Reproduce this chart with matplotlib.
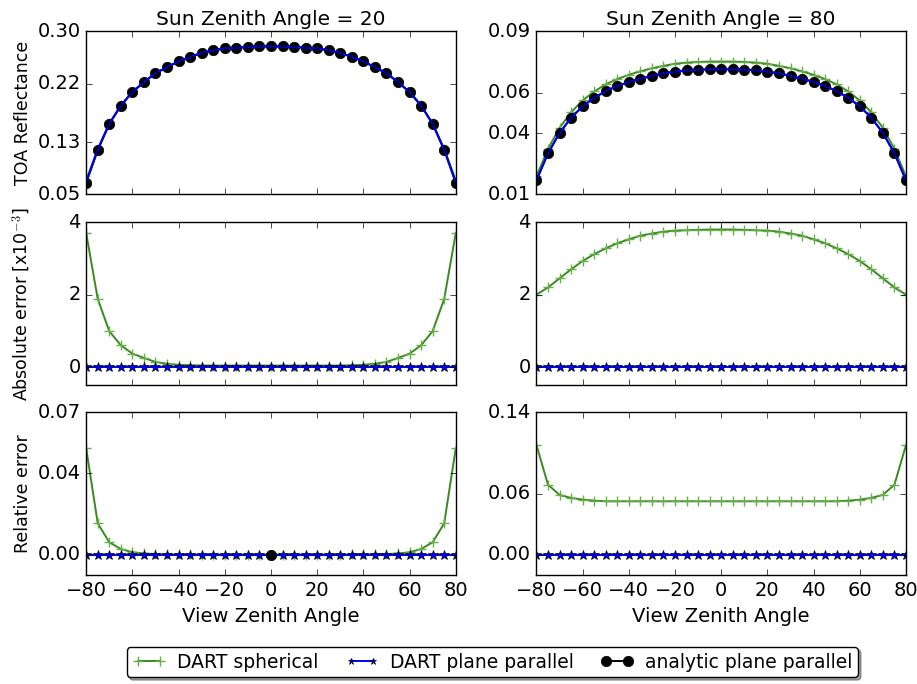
import numpy as np
import matplotlib
matplotlib.use("Agg")
import matplotlib.pyplot as plt

plt.style.use("classic")
plt.rcParams["figure.facecolor"] = "white"
plt.rcParams["savefig.facecolor"] = "white"
plt.rcParams["font.size"] = 14

vza = [-80, -75, -70, -65, -60, -55, -50, -45, -40, -35, -30, -25, -20, -15, -10, -5, 0,
       5, 10, 15, 20, 25, 30, 35, 40, 45, 50, 55, 60, 65, 70, 75, 80]

# sun zenith 20
refl_analytic_20 = [0.068, 0.118, 0.158, 0.186, 0.207, 0.222, 0.236, 0.245, 0.254, 0.261, 0.267,
                    0.271, 0.274, 0.275, 0.276, 0.277, 0.277, 0.277, 0.276, 0.275, 0.274, 0.271,
                    0.267, 0.261, 0.254, 0.245, 0.236, 0.222, 0.207, 0.186, 0.158, 0.118, 0.068]
refl_pp_20 = refl_analytic_20
refl_sph_20 = [0.0717, 0.1199, 0.1590, 0.1866, 0.2074, 0.2223, 0.2361, 0.2451, 0.2541, 0.2611,
               0.2670, 0.2710, 0.2740, 0.2750, 0.2760, 0.2770, 0.2770, 0.2770, 0.2760, 0.2750,
               0.2740, 0.2710, 0.2670, 0.2611, 0.2541, 0.2451, 0.2361, 0.2223, 0.2074, 0.1866,
               0.1590, 0.1199, 0.0717]
abs_sph_20 = [3.70, 1.88, 0.99, 0.60, 0.37, 0.25, 0.14, 0.09, 0.06, 0.05, 0.04, 0.04, 0.04, 0.04,
              0.04, 0.04, 0.04, 0.04, 0.04, 0.04, 0.04, 0.04, 0.04, 0.05, 0.06, 0.09, 0.14, 0.25,
              0.37, 0.60, 0.99, 1.88, 3.70]
rel_sph_20 = [0.0523, 0.0155, 0.0062, 0.0029, 0.0013, 0.0007, 0.0004, 0.0003, 0.0002, 0.0002,
              0.0001, 0.0001, 0.0001, 0.0001, 0.0001, 0.0001, 0.0001, 0.0001, 0.0001, 0.0001,
              0.0001, 0.0001, 0.0001, 0.0002, 0.0002, 0.0003, 0.0004, 0.0007, 0.0013, 0.0029,
              0.0062, 0.0155, 0.0523]

# sun zenith 80
refl_analytic_80 = [0.0168, 0.0301, 0.0401, 0.0476, 0.0532, 0.0574, 0.0607, 0.0632, 0.0652,
                    0.0668, 0.0682, 0.0694, 0.0703, 0.0709, 0.0712, 0.0714, 0.0714, 0.0714,
                    0.0712, 0.0709, 0.0703, 0.0694, 0.0682, 0.0668, 0.0652, 0.0632, 0.0607,
                    0.0574, 0.0532, 0.0476, 0.0401, 0.0301, 0.0168]
refl_pp_80 = refl_analytic_80
refl_sph_80 = [0.0188, 0.0323, 0.0426, 0.0503, 0.0561, 0.0605, 0.0640, 0.0666, 0.0687, 0.0704,
               0.0719, 0.0731, 0.0741, 0.0747, 0.0750, 0.0752, 0.0752, 0.0752, 0.0750, 0.0747,
               0.0741, 0.0731, 0.0719, 0.0704, 0.0687, 0.0666, 0.0640, 0.0605, 0.0561, 0.0503,
               0.0426, 0.0323, 0.0188]
abs_sph_80 = [2.00, 2.20, 2.45, 2.70, 2.93, 3.12, 3.28, 3.42, 3.53, 3.63, 3.69, 3.74, 3.77, 3.78,
              3.79, 3.80, 3.80, 3.80, 3.79, 3.78, 3.77, 3.74, 3.69, 3.63, 3.53, 3.42, 3.28, 3.12,
              2.93, 2.70, 2.45, 2.20, 2.00]
rel_sph_80 = [0.108, 0.069, 0.059, 0.056, 0.0543, 0.0533, 0.0527, 0.0527, 0.0527, 0.0527, 0.0527,
              0.0527, 0.0527, 0.0527, 0.0527, 0.0527, 0.0527, 0.0527, 0.0527, 0.0527, 0.0527,
              0.0527, 0.0527, 0.0527, 0.0527, 0.0527, 0.0527, 0.0533, 0.0543, 0.056, 0.059,
              0.069, 0.108]

zeros = [0.0] * len(vza)

fig = plt.figure(figsize=(9.17, 6.84), dpi=100)

lefts = [0.094, 0.585]
width = 0.403
bottoms = [0.716, 0.437, 0.159]
height = 0.238

cols = [
    dict(title="Sun Zenith Angle = 20", refl=(refl_sph_20, refl_pp_20, refl_analytic_20),
         abs=abs_sph_20, rel=rel_sph_20,
         lim=[(0.05, 0.30), (-0.5, 4), (-0.01, 0.07)],
         ticks=[[0.05, 0.13, 0.22, 0.30], [0, 2, 4], [0.0, 0.04, 0.07]]),
    dict(title="Sun Zenith Angle = 80", refl=(refl_sph_80, refl_pp_80, refl_analytic_80),
         abs=abs_sph_80, rel=rel_sph_80,
         lim=[(0.01, 0.09), (-0.5, 4), (-0.02, 0.14)],
         ticks=[[0.01, 0.04, 0.06, 0.09], [0, 2, 4], [0.0, 0.06, 0.14]]),
]

sph_kw = dict(color="#3a8a22", marker="+", markersize=7, markeredgewidth=1,
              markeredgecolor="#66b04a", lw=1.4)
pp_kw = dict(color="b", marker="*", markersize=7, lw=1.4)
an_kw = dict(color="k", marker="o", markersize=7.5, lw=1.4)

handles = None
for ci, c in enumerate(cols):
    axs = [fig.add_axes([lefts[ci], b, width, height]) for b in bottoms]

    sph, pp, an = c["refl"]
    h1, = axs[0].plot(vza, sph, **sph_kw)
    h3, = axs[0].plot(vza, an, **an_kw)
    h2, = axs[0].plot(vza, pp, **dict(pp_kw, markersize=5))
    if handles is None:
        handles = [h1, h2, h3]
    axs[0].set_title(c["title"], fontsize=14.5)

    axs[1].plot(vza, c["abs"], **sph_kw)
    axs[1].plot(vza, zeros, **pp_kw)

    axs[2].plot(vza, c["rel"], **sph_kw)
    axs[2].plot(vza, zeros, **pp_kw)
    if ci == 0:
        axs[2].plot([0], [0], **an_kw)

    for k, ax in enumerate(axs):
        ax.set_xlim(-80, 80)
        ax.set_xticks(range(-80, 81, 20))
        ax.set_ylim(*c["lim"][k])
        ax.set_yticks(c["ticks"][k])
        if k < 2:
            ax.set_xticklabels([])
        ax.tick_params(labelsize=14)
    axs[0].set_yticklabels(["%.2f" % t for t in c["ticks"][0]])
    axs[1].set_yticklabels(["%d" % t for t in c["ticks"][1]])
    axs[2].set_yticklabels(["%.2f" % t for t in c["ticks"][2]])
    axs[2].set_xlabel("View Zenith Angle", fontsize=14)

    if ci == 0:
        axs[0].set_ylabel("TOA Reflectance", fontsize=12.5)
        axs[1].set_ylabel(r"Absolute error [x10$^{-3}$]", fontsize=12.5)
        axs[2].set_ylabel("Relative error", fontsize=12.5)
        for ax in axs:
            ax.yaxis.set_label_coords(-0.148, 0.5)

fig.legend(handles, ["DART spherical", "DART plane parallel", "analytic plane parallel"],
           loc="center", bbox_to_anchor=(0.537, 0.032), ncol=3, fontsize=13.5,
           numpoints=2, shadow=True, fancybox=True, handlelength=1.8, columnspacing=1.4,
           borderpad=0.3, handletextpad=0.6)

fig.savefig("out.png", dpi=100)
